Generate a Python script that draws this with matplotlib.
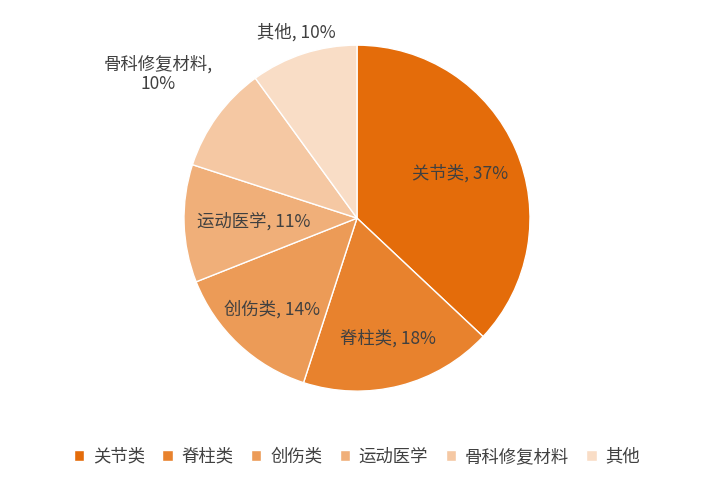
import matplotlib
matplotlib.use("Agg")
import matplotlib.pyplot as plt
import numpy as np

plt.rcParams['font.family'] = ['Noto Sans CJK SC', 'DejaVu Sans']

categories = ['关节类', '脊柱类', '创伤类', '运动医学', '骨科修复材料', '其他']
values = [37, 18, 14, 11, 10, 10]
colors = ['#E46C0A', '#E8822D', '#EC9B57', '#F0AF79', '#F5C8A3', '#F9DDC6']
label_r = [0.65, 0.72, 0.72, 0.6, 1.42, 1.13]

fig = plt.figure(figsize=(7.14, 4.88), dpi=100)
ax = fig.add_axes([0.5 - 0.2423, 0.553 - 0.3545, 0.4846, 0.709])
wedges, _ = ax.pie(values, colors=colors, startangle=90, counterclock=False,
                   wedgeprops=dict(edgecolor='white', linewidth=1))
ax.set_xlim(-1, 1)
ax.set_ylim(-1, 1)
ax.set_aspect('equal')
total = sum(values)
cum = 0
for i, (c, v) in enumerate(zip(categories, values)):
    mid = cum + v / 2
    cum += v
    ang = np.deg2rad(90 - 360 * mid / total)
    r = label_r[i]
    txt = f'{c},\n{v}%' if c == '骨科修复材料' else f'{c}, {v}%'
    ax.text(r * np.cos(ang), r * np.sin(ang), txt, ha='center', va='center',
            fontsize=12.5, color='#404040', linespacing=1.1)

fig.legend(wedges, categories, loc='center', bbox_to_anchor=(0.5, 0.064), ncol=6,
           frameon=False, fontsize=12.5, handlelength=0.6, handleheight=0.6,
           columnspacing=1.0, handletextpad=0.5, labelcolor='#404040')
fig.savefig('out.png', dpi=100)
